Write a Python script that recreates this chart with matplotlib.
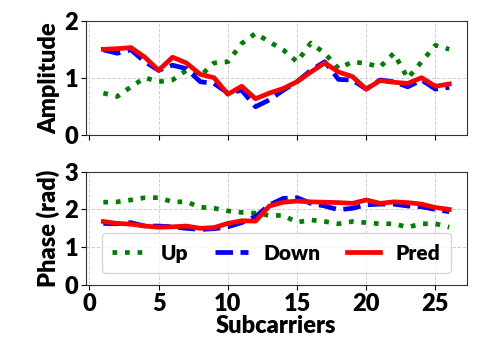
import numpy as np
import matplotlib
matplotlib.use("Agg")
from matplotlib import pyplot as plt

plt.rcParams['font.family'] = ['Lato', 'DejaVu Sans']
plt.rcParams['font.weight'] = 'heavy'

subcarriers = np.arange(1, 27)

# amplitude
amp_up = [0.73, 0.67, 0.84, 1.00, 0.93, 0.96, 1.13, 1.03, 1.26, 1.28, 1.60, 1.78, 1.63,
          1.49, 1.28, 1.61, 1.43, 1.16, 1.28, 1.25, 1.19, 1.43, 0.99, 1.28, 1.57, 1.50]
amp_down = [1.49, 1.43, 1.49, 1.28, 1.13, 1.22, 1.16, 0.93, 0.90, 0.73, 0.78, 0.49, 0.61,
            0.78, 0.93, 1.13, 1.28, 0.97, 0.96, 0.80, 0.96, 0.93, 0.84, 0.96, 0.80, 0.83]
amp_pred = [1.50, 1.51, 1.53, 1.36, 1.13, 1.36, 1.26, 1.06, 1.00, 0.71, 0.85, 0.63, 0.73,
            0.81, 0.93, 1.10, 1.26, 1.10, 1.02, 0.80, 0.95, 0.92, 0.90, 1.00, 0.85, 0.89]

# phase
ph_up = [2.19, 2.20, 2.25, 2.31, 2.31, 2.20, 2.20, 2.06, 2.03, 1.96, 1.92, 1.90, 1.84,
         1.84, 1.66, 1.72, 1.68, 1.62, 1.68, 1.65, 1.62, 1.62, 1.53, 1.62, 1.62, 1.53]
ph_down = [1.63, 1.62, 1.65, 1.56, 1.56, 1.54, 1.50, 1.47, 1.49, 1.54, 1.65, 1.81, 2.12,
           2.29, 2.31, 2.16, 2.09, 1.99, 2.03, 2.12, 2.14, 2.14, 2.09, 2.07, 2.00, 1.94]
ph_pred = [1.68, 1.63, 1.61, 1.56, 1.53, 1.54, 1.56, 1.50, 1.52, 1.63, 1.70, 1.69, 2.09,
           2.19, 2.22, 2.20, 2.19, 2.18, 2.16, 2.25, 2.16, 2.20, 2.18, 2.14, 2.05, 2.00]

fig = plt.figure(figsize=(4.78, 3.59), dpi=100)
ax0 = fig.add_axes([0.18, 0.625, 0.796, 0.317])
ax1 = fig.add_axes([0.18, 0.206, 0.796, 0.316], sharex=ax0)

def draw(ax, up, down, pred):
    ax.plot(subcarriers, up, color='green', linestyle=':', linewidth=3.4, label='Up')
    ax.plot(subcarriers, down, color='blue', linestyle='--', linewidth=3.4, label='Down')
    ax.plot(subcarriers, pred, color='red', linestyle='-', linewidth=3.4, label='Pred')
    ax.grid(True, linestyle='--', color='#d0d0d0', linewidth=0.7)
    ax.tick_params(labelsize=17, pad=2)
    for sp in ax.spines.values():
        sp.set_color('#333333')

draw(ax0, amp_up, amp_down, amp_pred)
draw(ax1, ph_up, ph_down, ph_pred)

ax0.set_ylim(0, 2)
ax0.set_yticks([0, 1, 2])
ax0.set_ylabel('Amplitude', fontsize=17, fontweight='heavy', labelpad=3)
plt.setp(ax0.get_xticklabels(), visible=False)

ax1.set_ylim(0, 3)
ax1.set_yticks([0, 1, 2, 3])
ax1.set_xticks([0, 5, 10, 15, 20, 25])
ax1.set_ylabel('Phase (rad)', fontsize=17, fontweight='heavy', labelpad=3)
ax1.set_xlabel('Subcarriers', fontsize=17, fontweight='heavy', labelpad=0)
ax1.legend(loc='lower center', bbox_to_anchor=(0.5, 0.105), borderaxespad=0, ncol=3,
           fontsize=15, handlelength=1.6, columnspacing=1.25, borderpad=0.5,
           handletextpad=0.75)

fig.align_ylabels([ax0, ax1])
fig.savefig('out.png', dpi=100)
